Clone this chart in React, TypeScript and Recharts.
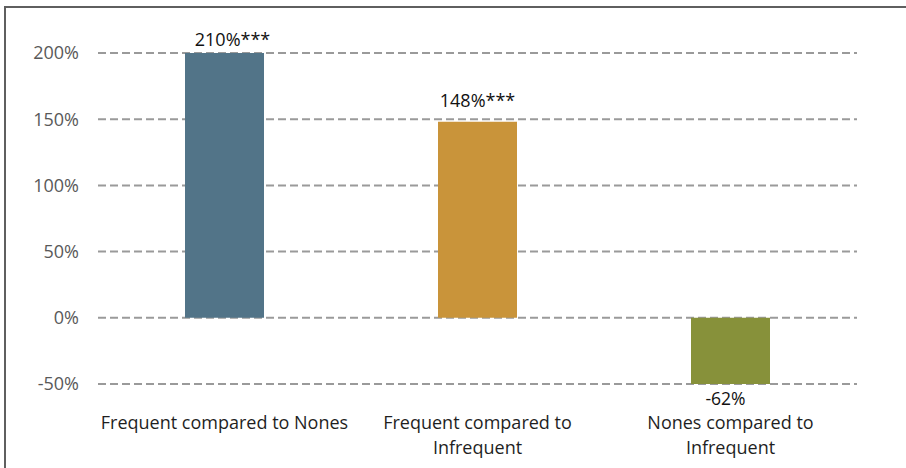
import React from "react";
import {
  BarChart,
  Bar,
  XAxis,
  YAxis,
  CartesianGrid,
  Cell,
  LabelList,
} from "recharts";

const CATEGORIES = [
  "Frequent compared to Nones",
  "Frequent compared to Infrequent",
  "Nones compared to Infrequent",
];
// how the category names wrap under the axis
const CATEGORY_LINES = [
  ["Frequent compared to Nones"],
  ["Frequent compared to", "Infrequent"],
  ["Nones compared to", "Infrequent"],
];
const VALUES = [210, 148, -62];
const STARS = ["***", "***", ""];
const COLORS = ["#527488", "#C9943A", "#87913A"];
const Y_TICKS = [-50, 0, 50, 100, 150, 200];

const Y_MIN = Y_TICKS[0];
const Y_MAX = Y_TICKS[Y_TICKS.length - 1];
const FONT = "'Open Sans', sans-serif";

const data = CATEGORIES.map((name, i) => ({
  name,
  value: VALUES[i],
  stars: STARS[i],
}));

// bars are cut off at the edges of the value axis, like the original
const clamped = (d: { value: number }) =>
  Math.max(Y_MIN, Math.min(Y_MAX, d.value));

function CategoryTick(props: any) {
  const { x, y, index } = props;
  const lines = CATEGORY_LINES[index] || [];
  return (
    <text
      x={x}
      y={y}
      textAnchor="middle"
      fill="#1f1f1f"
      fontFamily={FONT}
      fontSize={18}
    >
      {lines.map((line, i) => (
        <tspan key={i} x={x} dy={i === 0 ? 44.5 : 25.5}>
          {line}
        </tspan>
      ))}
    </text>
  );
}

function ValueLabel(props: any) {
  const { x, y, width, height, value, index } = props;
  const top = Math.min(y, y + height);
  const bottom = Math.max(y, y + height);
  const cx = x + width / 2;
  const text = `${value}%${STARS[index] || ""}`;
  const over = value > Y_MAX;
  const under = value < Y_MIN;

  let tx = cx;
  let ty = top - 15;
  let size = 18;
  if (value < 0) {
    ty = bottom + 21;
    size = 17.5;
    if (under) tx = cx - 5;
  } else if (over) {
    ty = top - 7;
    tx = cx + 8;
  }

  return (
    <text
      x={tx}
      y={ty}
      textAnchor="middle"
      fill="#111"
      fontFamily={FONT}
      fontSize={size}
    >
      {text}
    </text>
  );
}

export default function App() {
  return (
    <div
      style={{
        position: "absolute",
        left: 0,
        top: 0,
        width: 906,
        height: 468,
        background: "#fff",
        overflow: "hidden",
      }}
    >
      <div
        style={{
          position: "absolute",
          left: 4,
          top: 6,
          width: 902,
          height: 462,
          borderTop: "2px solid #5f5f5f",
          borderLeft: "2px solid #5f5f5f",
        }}
      />
      <BarChart
        width={906}
        height={468}
        data={data}
        margin={{ top: 53, right: 49, bottom: 0, left: 0 }}
        style={{ position: "absolute", left: 0, top: 0 }}
      >
        <CartesianGrid
          vertical={false}
          stroke="#9a9a9a"
          strokeWidth={2}
          strokeDasharray="8 4"
        />
        <XAxis
          dataKey="name"
          axisLine={false}
          tickLine={false}
          tickSize={0}
          tickMargin={0}
          height={84}
          interval={0}
          tick={<CategoryTick />}
        />
        <YAxis
          width={98}
          domain={[Y_MIN, Y_MAX]}
          ticks={Y_TICKS}
          interval={0}
          axisLine={false}
          tickLine={false}
          tickSize={0}
          tickMargin={19}
          tickFormatter={(v: number) => `${v}%`}
          tick={{ fill: "#595959", fontFamily: FONT, fontSize: 18 }}
        />
        <Bar dataKey={clamped} barSize={79} isAnimationActive={false}>
          {data.map((d, i) => (
            <Cell key={d.name} fill={COLORS[i]} />
          ))}
          <LabelList dataKey="value" content={<ValueLabel />} />
        </Bar>
      </BarChart>
    </div>
  );
}
